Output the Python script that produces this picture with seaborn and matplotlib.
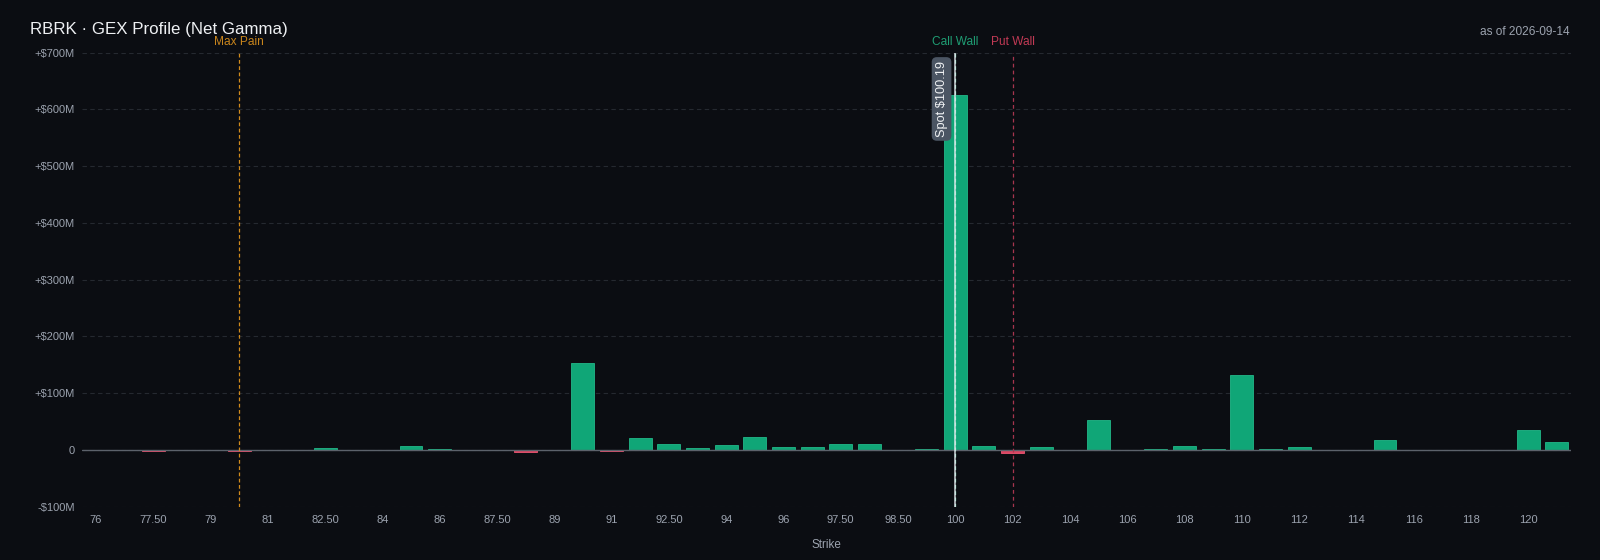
import numpy as np
import pandas as pd
import seaborn as sns
import matplotlib.pyplot as plt
from matplotlib.ticker import FuncFormatter
import matplotlib.transforms as mtransforms

# strikes and net gamma exposure ($M)
strikes = [76, 77, 77.5, 78, 79, 80, 81, 82, 82.5, 83, 84, 85, 86, 87, 87.5, 88,
           89, 90, 91, 92, 92.5, 93, 94, 95, 96, 97, 97.5, 98, 98.5, 99, 100,
           101, 102, 103, 104, 105, 106, 107, 108, 109, 110, 111, 112, 113, 114,
           115, 116, 117, 118, 119, 120, 121]
net_gex = [0, 0, -1.0, -0.3, -0.3, -1.0, 0.2, 0.2, 4.0, 0.2, 0.3, 7.6, 1.0, -0.5, -0.8, -3.5,
           -0.6, 154, -2.3, 21.8, 10, 3.5, 9.4, 23.5, 5.3, 5.9, 10, 10, 0.3, 1.8, 626,
           6.5, -4.7, 5.3, 0.3, 53, 0.2, 1.8, 6.5, 1.8, 132, 1.2, 4.7, 0.2, 0.3,
           17, 0.2, 0.1, 0.1, 0.2, 34.5, 15]

spot = 100.19
max_pain = 80
call_wall = 100
put_wall = 102
ticker = "RBRK"
as_of = "2026-09-14"


def fmt_strike(s):
    return str(int(s)) if float(s).is_integer() else f"{s:.2f}"


labels = [fmt_strike(s) for s in strikes]
df = pd.DataFrame({"strike": labels, "gex": net_gex})
df["sign"] = np.where(df["gex"] >= 0, "pos", "neg")

BG = "#0b0d12"
TXT = "#9ca3af"

sns.set_theme(style="dark", rc={
    "figure.facecolor": BG, "axes.facecolor": BG, "axes.edgecolor": BG,
    "text.color": TXT, "xtick.color": TXT, "ytick.color": TXT, "axes.labelcolor": TXT,
})
plt.rcParams["font.family"] = ["Liberation Sans", "DejaVu Sans"]

fig = plt.figure(figsize=(16, 5.6), dpi=100)
ax = fig.add_axes([0.051, 0.095, 0.931, 0.811])

sns.barplot(data=df, x="strike", y="gex", hue="sign", order=labels,
            palette={"pos": "#10a677", "neg": "#dc4562"}, dodge=False, legend=False,
            width=0.8, saturation=1, linewidth=0, ax=ax)
for p in ax.patches:
    fc = p.get_facecolor()
    p.set_edgecolor((min(fc[0] + 0.07, 1), min(fc[1] + 0.07, 1), min(fc[2] + 0.07, 1), 1))
    p.set_linewidth(0.6)

ax.set_xlim(-0.5, len(strikes) - 0.5)
ax.set_ylim(-100, 700)
ax.set_yticks(range(-100, 701, 100))
ax.yaxis.set_major_formatter(FuncFormatter(
    lambda v, _: "0" if v == 0 else (f"+${v:.0f}M" if v > 0 else f"-${-v:.0f}M")))
ax.set_xticks(range(0, len(strikes), 2))
ax.set_xticklabels(labels[::2])
ax.tick_params(axis="both", length=0, labelsize=8, colors=TXT)
ax.tick_params(axis="x", pad=6)
ax.tick_params(axis="y", pad=5)

ax.grid(axis="y", color="#252930", linestyle=(0, (4, 3)), linewidth=0.8)
ax.grid(axis="x", visible=False)
ax.set_axisbelow(True)
for s in ax.spines.values():
    s.set_visible(False)
ax.axhline(0, color="#5c626b", linewidth=1.0, zorder=1.5)

ax.set_xlabel("Strike", fontsize=8.4, labelpad=10, color=TXT)
ax.set_ylabel("")

idx = {s: i for i, s in enumerate(strikes)}
trans = mtransforms.blended_transform_factory(ax.transData, ax.transAxes)

ax.axvline(idx[max_pain], color="#d08a1c", linestyle=(0, (3, 2)), linewidth=0.9, zorder=3)
ax.axvline(idx[put_wall], color="#a8354f", linestyle=(0, (3, 2.5)), linewidth=0.9, zorder=3)
ax.axvline(idx[call_wall], color="#7fe0bd", linestyle=(0, (3, 2)), linewidth=0.9, zorder=3)
ax.axvline(idx[call_wall], color="#e6eaef", linewidth=1.1, alpha=0.9, zorder=4)

ax.text(idx[max_pain], 1.023, "Max Pain", transform=trans, ha="center", va="center",
        fontsize=8.6, color="#c9851c")
ax.text(idx[call_wall], 1.023, "Call Wall", transform=trans, ha="center", va="center",
        fontsize=8.6, color="#1f9e74")
ax.text(idx[put_wall], 1.023, "Put Wall", transform=trans, ha="center", va="center",
        fontsize=8.6, color="#c23a55")
ax.text(idx[call_wall] - 0.48, 0.898, f"Spot ${spot:.2f}", transform=trans, rotation=90,
        ha="center", va="center", fontsize=9.2, color="#f1f3f5", zorder=5,
        bbox=dict(boxstyle="round,pad=0.3,rounding_size=0.4", facecolor="#4b5563",
                  edgecolor="none"))

fig.text(0.019, 0.948, f"{ticker} · GEX Profile (Net Gamma)", ha="left", va="center",
         fontsize=12.2, color="#eef0f3")
fig.text(0.981, 0.943, f"as of {as_of}", ha="right", va="center", fontsize=8.6, color=TXT)

fig.savefig("out.png", dpi=100, facecolor=BG)
